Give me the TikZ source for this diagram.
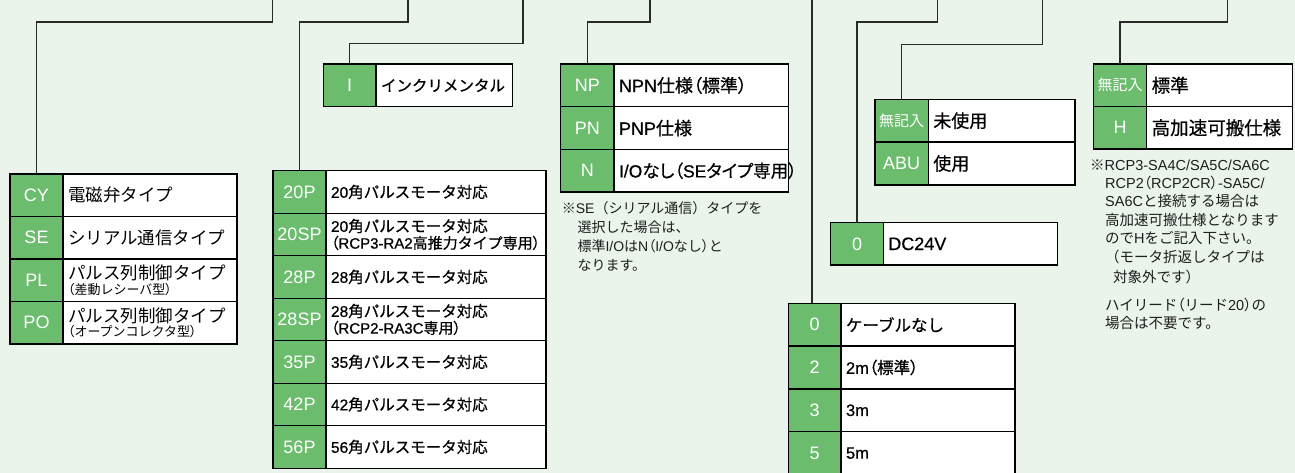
\documentclass[tikz,border=0pt]{standalone}
\usepackage{fontspec}
\setmainfont{Noto Sans CJK JP}
\newfontfamily\jpr{Noto Sans CJK JP}
\newfontfamily\jprp[RawFeature=+palt]{Noto Sans CJK JP}
\newfontfamily\jpb[FakeBold=0.6]{Noto Sans CJK JP}
\newfontfamily\jpbp[FakeBold=0.6,RawFeature=+palt]{Noto Sans CJK JP}
\newfontfamily\lat{Liberation Sans}
\newfontfamily\latb[FakeBold=0.6]{Liberation Sans}
\let\curlat\lat
\let\curpp\jprp
\newcommand\E[1]{{\curlat #1}}
\newcommand\lp{{\curpp （}}
\newcommand\rp{{\curpp ）}}
\newcommand\Rf[2]{\jpr\let\curlat\lat\let\curpp\jprp\fontsize{#1}{#2}\selectfont}
\newcommand\Bf[2]{\jpb\let\curlat\latb\let\curpp\jpbp\fontsize{#1}{#2}\selectfont}
\newcommand\BPf[2]{\jpbp\let\curlat\latb\let\curpp\jpbp\fontsize{#1}{#2}\selectfont}
\newcommand\wk{{\jpr\fontsize{15}{15}\selectfont 無記入}}
\definecolor{bg}{HTML}{EAF4EA}
\definecolor{cg}{HTML}{6CBC6E}
\definecolor{lc}{HTML}{2A2A2A}
\definecolor{nt}{HTML}{1E1E1E}
\newcommand\trow[9]{%
  \pgfmathsetmacro\cw{#3-#2}%
  \pgfmathsetmacro\tw{#4-#3-10}%
  \node[codecell, minimum width=\cw pt, minimum height=#6pt] (#1c) at (#2,#5) {#7};%
  \node[textcell, text width=\tw pt, minimum height=#6pt, font=#8] (#1t) at (#3,#5) {#9};%
}
\begin{document}
\begin{tikzpicture}[x=1pt,y=-1pt,
  codecell/.style={draw=black, fill=cg, line width=1.3pt, inner sep=0pt, outer sep=0pt,
    anchor=north west, text=white, font=\lat\fontsize{18}{18}\selectfont},
  textcell/.style={draw=black, fill=white, line width=1.3pt, inner xsep=5pt, inner ysep=0pt,
    outer sep=0pt, anchor=north west, align=left, text=black},
  conn/.style={draw=lc, line width=1.3pt},
  note/.style={anchor=base west, inner sep=0pt, text=nt},
  noteA/.style={note, font=\Rf{14}{14}},
  noteB/.style={note, font=\Rf{14.5}{14.5}}]
\fill[bg] (0,0) rectangle (1295,473);
\useasboundingbox (0,0) rectangle (1295,473);
\clip (0,0) rectangle (1295,473);

% tables
\trow{cy}{10}{63}{237}{174}{42.5}{CY}{\Rf{17.5}{14.5}}{電磁弁タイプ}
\trow{se}{10}{63}{237}{216.5}{42.5}{SE}{\Rf{17.5}{14.5}}{シリアル通信タイプ}
\trow{pl}{10}{63}{237}{259}{42.5}{PL}{\Rf{17.5}{14.5}}{パルス列制御タイプ\\{\fontsize{13}{13}\selectfont\lp 差動レシーバ型\rp}}
\trow{po}{10}{63}{237}{301.5}{42.5}{PO}{\Rf{17.5}{14.5}}{パルス列制御タイプ\\{\fontsize{13}{13}\selectfont\lp オープンコレクタ型\rp}}

\trow{pa}{273}{326}{546}{170.7}{42.5}{20P}{\Bf{15.5}{16.7}}{\E{20}角パルスモータ対応}
\trow{pb}{273}{326}{546}{213.2}{42.5}{20SP}{\Bf{15.5}{16.7}}{\E{20}角パルスモータ対応\\{\fontsize{15}{15}\selectfont\lp\E{RCP3-RA2}高推力タイプ専用\rp}}
\trow{pc}{273}{326}{546}{255.7}{42.5}{28P}{\Bf{15.5}{16.7}}{\E{28}角パルスモータ対応}
\trow{pd}{273}{326}{546}{298.2}{42.5}{28SP}{\Bf{15.5}{16.7}}{\E{28}角パルスモータ対応\\{\fontsize{15}{15}\selectfont\lp\E{RCP2-RA3C}専用\rp}}
\trow{pe}{273}{326}{546}{340.7}{42.5}{35P}{\Bf{15.5}{16.7}}{\E{35}角パルスモータ対応}
\trow{pf}{273}{326}{546}{383.2}{42.5}{42P}{\Bf{15.5}{16.7}}{\E{42}角パルスモータ対応}
\trow{pg}{273}{326}{546}{425.7}{42.5}{56P}{\Bf{15.5}{16.7}}{\E{56}角パルスモータ対応}

\trow{inc}{323.3}{376}{512.7}{64}{42.7}{I}{\Bf{15.5}{15.5}}{インクリメンタル}

\trow{np}{560.7}{614}{788.3}{64}{42.7}{NP}{\BPf{18}{18}}{\E{NPN}仕様\lp 標準\rp}
\trow{pn}{560.7}{614}{788.3}{106.7}{42.7}{PN}{\BPf{18}{18}}{\E{PNP}仕様}
\trow{nn}{560.7}{614}{788.3}{149.4}{42.7}{N}{\BPf{17.5}{17.5}}{\E{I/O}なし\lp\E{SE}タイプ専用\rp}

\trow{ua}{875}{928.3}{1075}{99.3}{42.8}{\wk}{\Bf{18}{18}}{未使用}
\trow{ub}{875}{928.3}{1075}{142.1}{42.8}{ABU}{\Bf{18}{18}}{使用}

\trow{dc}{830.7}{883.3}{1057.7}{222.7}{42.3}{0}{\Bf{18}{18}}{\E{DC24V}}

\trow{ka}{788.3}{841}{1015}{303.3}{42.8}{0}{\Bf{16.5}{16.5}}{ケーブルなし}
\trow{kb}{788.3}{841}{1015}{346.1}{42.8}{2}{\Bf{16.5}{16.5}}{\E{2m}\lp 標準\rp}
\trow{kc}{788.3}{841}{1015}{388.9}{42.8}{3}{\Bf{16.5}{16.5}}{\E{3m}}
\trow{kd}{788.3}{841}{1015}{431.7}{42.8}{5}{\Bf{16.5}{16.5}}{\E{5m}}

\trow{ha}{1093.3}{1146.7}{1292.7}{64}{42.5}{\wk}{\Bf{18.5}{18.5}}{標準}
\trow{hb}{1093.3}{1146.7}{1292.7}{106.5}{42.5}{H}{\Bf{18.5}{18.5}}{高加速可搬仕様}

% connectors
\coordinate (s1) at (272.7,-2);
\coordinate (s2) at (408,-2);
\coordinate (s3) at (523,-2);
\coordinate (s4) at (650,-2);
\coordinate (s5) at (812,-2);
\coordinate (s6) at (937.3,-2);
\coordinate (s7) at (1042.3,-2);
\coordinate (s8) at (1227.7,-2);
\draw[conn] (s1) -- ++(0,24) -| (cyc.north);
\draw[conn] (s2) -- ++(0,24) -| (pac.north);
\draw[conn] (s3) -- ++(0,45.3) -| (incc.north);
\draw[conn] (s4) -- ++(0,24) -| (npc.north);
\draw[conn] (s5) -- (s5 |- kac.north);
\draw[conn] (s6) -- ++(0,24) -| (dcc.north);
\draw[conn] (s7) -- ++(0,46.3) -| (uac.north);
\draw[conn] (s8) -- ++(0,24) -| (hac.north);

% notes
\node[noteA] (n1a) at (561.7,213.6) {※\E{SE}（シリアル通信）タイプを};
\node[noteA] (n1b) at (577.3,232.6) {選択した場合は、};
\node[noteA] (n1c) at (577.3,251.6) {標準\E{I/O}は\E{N}\lp\E{I/O}なし\rp と};
\node[noteA] (n1d) at (577.3,270.6) {なります。};

\node[noteB] (n2a) at (1090,170.5) {※\E{RCP3-SA4C/SA5C/SA6C}};
\node[noteB] (n2b) at (1105,188.8) {\E{RCP2}\lp\E{RCP2CR}\rp\E{-SA5C/}};
\node[noteB] (n2c) at (1105,206.2) {\E{SA6C}と接続する場合は};
\node[noteB] (n2d) at (1105,225.5) {高加速可搬仕様となります};
\node[noteB] (n2e) at (1105,243.8) {ので\E{H}をご記入下さい。};
\node[noteB] (n2f) at (1105,262.8) {（モータ折返しタイプは};
\node[noteB] (n2g) at (1113,282.2) {対象外です）};
\node[noteB] (n2h) at (1105,310.5) {ハイリード\lp リード\E{20}\rp の};
\node[noteB] (n2i) at (1105,328.8) {場合は不要です。};
\end{tikzpicture}
\end{document}
